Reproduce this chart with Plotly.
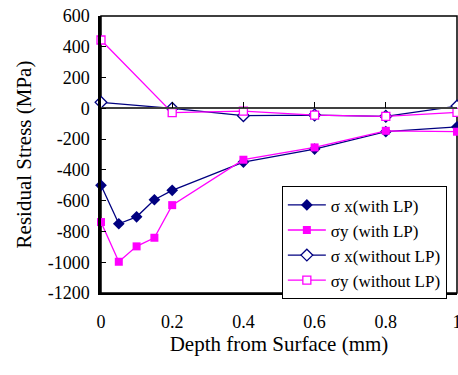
import plotly.graph_objects as go

depth_lp = [0, 0.05, 0.1, 0.15, 0.2, 0.4, 0.6, 0.8, 1.0]
sx_lp = [-500, -750, -705, -594, -533, -349, -265, -152, -120]
sy_lp = [-739, -997, -897, -841, -629, -334, -254, -146, -152]

depth_nolp = [0, 0.2, 0.4, 0.6, 0.8, 1.0]
sx_nolp = [39, 0, -48, -44, -52, 15]
sy_nolp = [444, -28, -18, -44, -52, -26]

names = ["σ x(with LP)", "σy (with LP)", "σ x(without LP)", "σy (without LP)"]

y_tickvals = [600, 400, 200, 0, -200, -400, -600, -800, -1000, -1200]
y_ticktext = ["600", "400", "200", "0", "-200", "-400", "-600", "-800", "-1000", "-1200"]
x_tickvals = [0, 0.2, 0.4, 0.6, 0.8, 1]
x_ticktext = ["0", "0.2", "0.4", "0.6", "0.8", "1"]
x_minor_ticks = [0.2, 0.4, 0.6, 0.8]

NAVY = "#000080"
MAG = "#FF00FF"
FONT = "Liberation Serif"

fig = go.Figure()
fig.add_trace(go.Scatter(x=depth_lp, y=sx_lp, name=names[0], mode="lines+markers",
                         line=dict(color=NAVY, width=1.3), cliponaxis=False,
                         marker=dict(symbol="diamond", size=9, color=NAVY)))
fig.add_trace(go.Scatter(x=depth_lp, y=sy_lp, name=names[1], mode="lines+markers",
                         line=dict(color=MAG, width=1.3), cliponaxis=False,
                         marker=dict(symbol="square", size=8, color=MAG)))
fig.add_trace(go.Scatter(x=depth_nolp, y=sx_nolp, name=names[2], mode="lines+markers",
                         line=dict(color=NAVY, width=1.3), cliponaxis=False,
                         marker=dict(symbol="diamond", size=9, color="white",
                                     line=dict(color=NAVY, width=1.3))))
fig.add_trace(go.Scatter(x=depth_nolp, y=sy_nolp, name=names[3], mode="lines+markers",
                         line=dict(color=MAG, width=1.3), cliponaxis=False,
                         marker=dict(symbol="square", size=8, color="white",
                                     line=dict(color=MAG, width=1.3))))

# invisible trace to carry the zero-crossing axis with upward ticks
fig.add_trace(go.Scatter(x=[0, 1], y=[0, 0], xaxis="x2", mode="lines",
                         line=dict(width=0, color="rgba(0,0,0,0)"),
                         showlegend=False, hoverinfo="skip"))

fig.update_layout(
    width=458, height=375,
    margin=dict(l=101, r=1, t=16, b=82, autoexpand=False),
    paper_bgcolor="white", plot_bgcolor="white",
    font=dict(family=FONT, color="black", size=17),
    showlegend=True,
    legend=dict(x=0.508, y=0.385, xanchor="left", yanchor="top",
                bgcolor="white", bordercolor="black", borderwidth=1,
                font=dict(family=FONT, size=17), tracegroupgap=0,
                itemwidth=38),
    xaxis=dict(range=[0, 1], tickvals=x_tickvals, ticktext=x_ticktext,
               showgrid=False, zeroline=False, showline=True, automargin=False,
               linecolor="black", linewidth=2, ticks="", ticklabeloverflow="allow",
               ticklabelstandoff=11, tickfont=dict(family=FONT, size=18),
               title=dict(text="Depth from Surface (mm)", font=dict(family=FONT, size=21), standoff=2)),
    xaxis2=dict(range=[0, 1], overlaying="x", anchor="free", position=2/3,
                side="top", tickvals=x_minor_ticks, showticklabels=False,
                ticks="outside", ticklen=6, tickwidth=1, tickcolor="black",
                showline=True, linecolor="#404040", linewidth=1.5, automargin=False,
                showgrid=False, zeroline=False),
    yaxis=dict(range=[-1200, 600], tickvals=y_tickvals, ticktext=y_ticktext,
               showgrid=False, zeroline=False, showline=True, automargin=False,
               linecolor="black", linewidth=2.5, ticks="inside", ticklen=5,
               tickcolor="black", tickwidth=1, ticklabelstandoff=5,
               tickfont=dict(family=FONT, size=18),
               title=dict(text="Residual Stress (MPa)", font=dict(family=FONT, size=21), standoff=11)),
    shapes=[dict(type="rect", xref="paper", yref="paper", x0=0, x1=1, y0=0, y1=1,
                 line=dict(color="black", width=1.5), layer="below")],
)

fig.write_html("out.html", config={"displayModeBar": False},
               post_script="document.body.style.margin='0px';document.body.style.padding='0px';")
